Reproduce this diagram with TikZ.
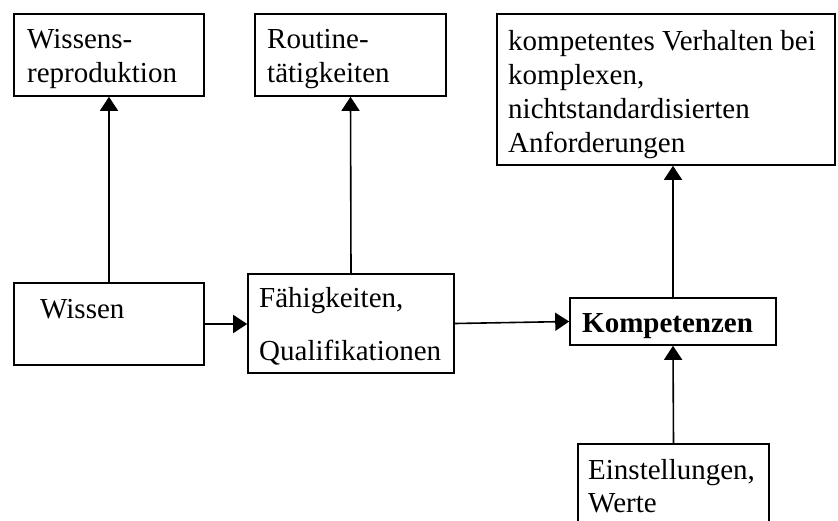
\documentclass[tikz,border=0pt]{standalone}
\usepackage{fontspec}
\setmainfont{Liberation Serif}
\usetikzlibrary{arrows.meta}
\begin{document}
\begin{tikzpicture}[x=1pt,y=-1pt,
  box/.style={draw, line width=1.6pt, inner sep=0pt},
  lbl/.style={anchor=base west, inner sep=0pt, align=left,
    font=\fontsize{29}{34}\selectfont},
  arr/.style={line width=1.6pt, -{Triangle[length=14pt,width=18pt]}}]
\useasboundingbox (0,0) rectangle (838,520);
\clip (0,0) rectangle (838,520);
% boxes
\node[box, minimum width=190pt, minimum height=82pt] (wr) at (109,55) {};
\node[box, minimum width=191pt, minimum height=82pt] (rt) at (350.5,55) {};
\node[box, minimum width=338pt, minimum height=151pt] (kv) at (666,89.5) {};
\node[box, minimum width=190pt, minimum height=82pt] (wi) at (109,324) {};
\node[box, minimum width=206pt, minimum height=99pt] (fa) at (351,323.5) {};
\node[box, minimum width=206pt, minimum height=47pt] (ko) at (673,321.5) {};
\node[box, minimum width=191pt, minimum height=96pt] (ei) at (673.5,492) {};
% texts (anchored at the baseline of the last line)
\node[lbl] (twr) at (27,82) {Wissens-\\reproduktion};
\node[lbl] (trt) at (267,82) {Routine-\\tätigkeiten};
\node[lbl] (tkv) at (508,152) {kompetentes Verhalten bei\\komplexen,\\nichtstandardisierten\\Anforderungen};
\node[lbl] (twi) at (40,318) {Wissen};
\node[lbl] (tfa) at (259,360) {Fähigkeiten,\\[19pt]Qualifikationen};
\node[lbl, font=\fontsize{29}{34}\selectfont\bfseries] (tko) at (582,332) {Kompetenzen};
\node[lbl, font=\fontsize{29}{33}\selectfont] (tei) at (588,512) {Einstellungen,\\Werte};
% connectors
\draw[arr] (wi.north) -- (wr.south);
\draw[arr] (fa.north) -- (rt.south);
\draw[arr] (ko.north) -- (ko.north |- kv.south);
\draw[arr] (ei.north) -- (ko.south);
\draw[arr] (wi.east) -- (wi.east -| fa.west);
\draw[arr] (fa.east) -- (ko.west);
\end{tikzpicture}
\end{document}
